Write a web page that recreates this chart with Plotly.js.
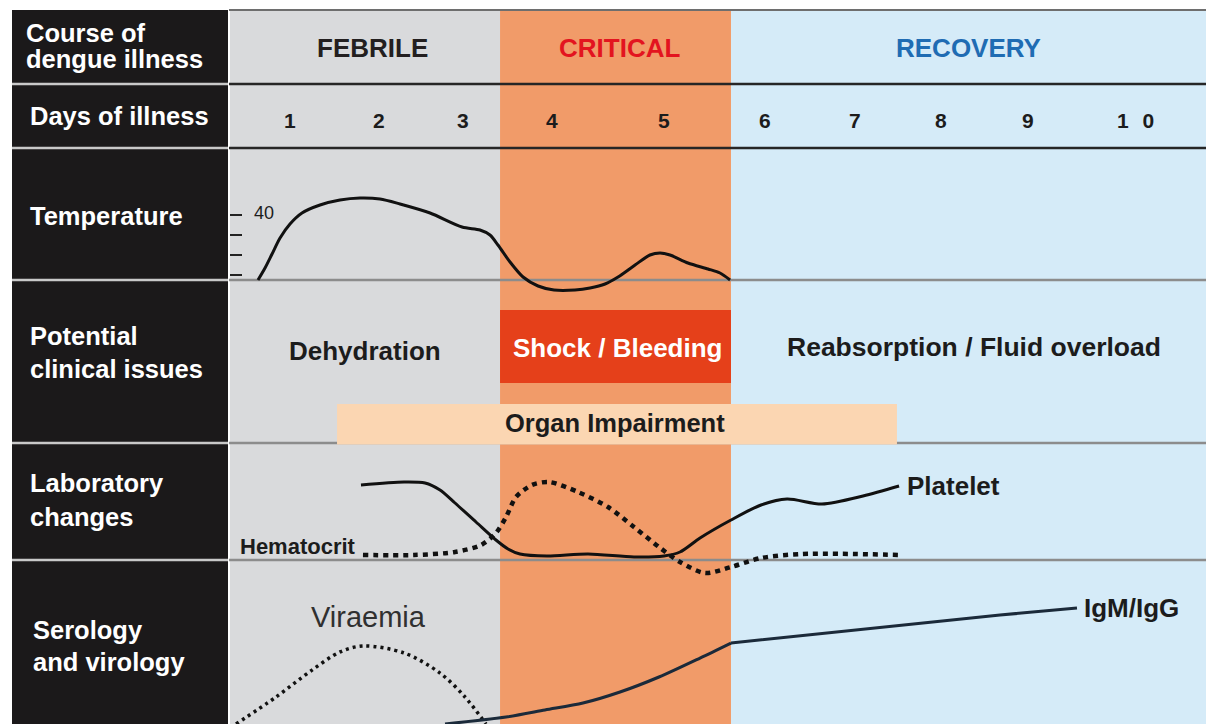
<!DOCTYPE html>
<html>
<head>
<meta charset="utf-8">
<script src="https://cdn.plot.ly/plotly-3.0.1.min.js"></script>
<style>html,body{margin:0;padding:0;background:#fff;}#chart{width:1206px;height:724px;}</style>
</head>
<body>
<div id="chart"></div>
<script>
// ---------------- DATA ----------------
const phases = ["FEBRILE", "CRITICAL", "RECOVERY"];
const phaseEdges = [0.368, 3.211, 5.642, 10.642];          // day units
const dayLabels = ["1", "2", "3", "4", "5", "6", "7", "8", "9", "1 0"];
const dayTickPos = [1.0, 1.937, 2.816, 3.758, 4.937, 6.0, 6.947, 7.853, 8.768, 9.926];

const rowLabels = [["Course of", "dengue illness"], ["Days of illness"], ["Temperature"],
                   ["Potential", "clinical issues"], ["Laboratory", "changes"], ["Serology", "and virology"]];

const tempTicks = [37, 38, 39, 40];
const tempDay = [0.663, 0.737, 0.811, 0.895, 1.0, 1.126, 1.316, 1.526, 1.737, 1.947, 2.158, 2.474, 2.811, 3.0, 3.105,
                 3.189, 3.316, 3.453, 3.611, 3.779, 4.0, 4.158, 4.316, 4.453, 4.632, 4.789, 4.895, 5.0, 5.189, 5.4, 5.526, 5.632];
const tempC = [36.75, 37.35, 38.05, 38.85, 39.55, 40.1, 40.5, 40.75, 40.85, 40.8, 40.55, 40.1, 39.4, 39.25, 39.0,
               38.5, 37.65, 36.9, 36.45, 36.25, 36.25, 36.35, 36.55, 36.9, 37.5, 38.0, 38.1, 38.0, 37.6, 37.3, 37.1, 36.75];

const plateletDay = [1.747, 2.2, 2.421, 2.579, 2.737, 2.958, 3.168, 3.295, 3.421, 3.705, 4.137, 4.621, 4.937, 5.105,
                     5.316, 5.642, 5.958, 6.232, 6.6, 7.032, 7.411];
const plateletLevel = [93.75, 97.5, 96.25, 87.5, 71.25, 47.5, 25, 13.75, 7.5, 5, 7.5, 3.75, 5, 10,
                       27.5, 50, 68.75, 76.25, 70, 80, 92.5];

const hctDay = [1.768, 2.305, 2.737, 3.011, 3.168, 3.274, 3.379, 3.547, 3.726, 4.032, 4.347, 4.621, 4.884, 5.105,
                5.368, 5.642, 5.958, 6.389, 7.432];
const hctLevel = [6.25, 6.25, 10, 18.75, 33.75, 53.75, 78.75, 93.75, 97.5, 85, 66.25, 41.25, 16.25, -2.5,
                  -16.25, -8.75, 2.5, 7.5, 6.25];

const viraemiaDay = [0.432, 0.853, 1.232, 1.526, 1.768, 2.2, 2.579, 2.842, 3.063];
const viraemiaLevel = [0, 21.8, 43.5, 58.1, 62.9, 57.3, 41.1, 21.8, 0];

const igRiseDay = [2.632, 3.274, 3.684, 4.084, 4.474, 4.884, 5.316, 5.642];
const igRiseLevel = [0, 5.6, 11.3, 16.9, 25.8, 37.9, 53.2, 65.3];
const igPlateauDay = [5.642, 8.474, 9.284];
const igPlateauLevel = [65.3, 87.9, 93.5];

const issues = {dehydration: "Dehydration", shock: "Shock / Bleeding", reabs: "Reabsorption / Fluid overload", organ: "Organ Impairment"};
const organSpan = [1.495, 7.389];

// ---------------- LAYOUT HELPERS ----------------
const W = 1206, H = 724;
const PX = v => v / W;
const PY = v => 1 - v / H;
const FONT = "Liberation Sans, Arial, Helvetica, sans-serif";
const dark = "#1c1c1c";

const shapes = [];
const annotations = [];

// left black column
shapes.push({type: "rect", xref: "paper", yref: "paper", x0: PX(12), x1: PX(228), y0: PY(724), y1: PY(10),
             fillcolor: "#1b191a", line: {width: 0}, layer: "below"});
// phase backgrounds
const phaseFill = ["#d9dadc", "#f19b69", "#d5ebf8"];
for (let i = 0; i < 3; i++) {
  shapes.push({type: "rect", xref: "x", yref: "paper", x0: phaseEdges[i], x1: phaseEdges[i + 1], y0: PY(724), y1: PY(10),
               fillcolor: phaseFill[i], line: {width: 0}, layer: "below"});
}
// horizontal rules
const rules = [[10, "#6e6e6e", 2], [84, "#262626", 2.5], [148, "#262626", 2.5], [280, "#8c8c8c", 2.5], [443, "#8c8c8c", 2.5], [560, "#8c8c8c", 2.5]];
rules.forEach(r => {
  shapes.push({type: "line", xref: "paper", yref: "paper", x0: PX(229), x1: 1, y0: PY(r[0]), y1: PY(r[0]),
               line: {color: r[1], width: r[2]}, layer: "below"});
  if (r[0] > 10) shapes.push({type: "line", xref: "paper", yref: "paper", x0: PX(12), x1: PX(228), y0: PY(r[0]), y1: PY(r[0]),
               line: {color: "#c9c9c9", width: 2.5}, layer: "below"});
});
// shock box and organ impairment box
shapes.push({type: "rect", xref: "x", yref: "paper", x0: phaseEdges[1], x1: phaseEdges[2], y0: PY(383), y1: PY(310),
             fillcolor: "#e5401a", line: {width: 0}, layer: "below"});
shapes.push({type: "rect", xref: "x", yref: "paper", x0: organSpan[0], x1: organSpan[1], y0: PY(444.5), y1: PY(404),
             fillcolor: "#fbd6b2", line: {width: 0}, layer: "below"});

// left column labels
const rowLabelPos = [[25, [33, 59]], [29, [116]], [29, [216]], [29, [336, 369]], [29, [483, 517]], [32, [630, 662]]];
rowLabels.forEach((lines, i) => {
  lines.forEach((t, j) => {
    annotations.push({text: t, xref: "paper", yref: "paper", x: PX(rowLabelPos[i][0]), y: PY(rowLabelPos[i][1][j]),
      xanchor: "left", yanchor: "middle", showarrow: false, xshift: -1, font: {family: FONT, size: 25.5, color: "#ffffff", weight: "bold"}});
  });
});
// phase titles
const phaseColor = ["#231f20", "#e3141f", "#1f6cb3"];
phases.forEach((p, i) => {
  annotations.push({text: p, xref: "x", yref: "paper", x: (phaseEdges[i] + phaseEdges[i + 1]) / 2, y: PY(48),
    xanchor: "center", yanchor: "middle", showarrow: false, xshift: [7, 4, 0][i],
    font: {family: FONT, size: 26, color: phaseColor[i], weight: "bold"}});
});
// day labels
dayLabels.forEach((d, i) => {
  annotations.push({text: d.length > 1 ? '<span style="letter-spacing:4px">' + d + '</span>' : d, xref: "x", yref: "paper",
    x: dayTickPos[i], y: PY(120), xanchor: "center", yanchor: "middle", showarrow: false,
    font: {family: FONT, size: 21, color: dark, weight: "bold"}});
});
// temperature scale label
annotations.push({text: "40", xref: "paper", yref: "y", x: PX(252), y: tempTicks[3] + 0.12, xanchor: "left", yanchor: "middle",
  showarrow: false, font: {family: FONT, size: 18, color: dark}});
// clinical issues
annotations.push({text: issues.dehydration, xref: "x", yref: "paper", x: (phaseEdges[0] + phaseEdges[1]) / 2, y: PY(351),
  xanchor: "center", yanchor: "middle", xshift: 0, showarrow: false, font: {family: FONT, size: 26, color: dark, weight: "bold"}});
annotations.push({text: issues.shock, xref: "x", yref: "paper", x: (phaseEdges[1] + phaseEdges[2]) / 2, y: PY(348),
  xanchor: "center", yanchor: "middle", xshift: 2, showarrow: false, font: {family: FONT, size: 26, color: "#ffffff", weight: "bold"}});
annotations.push({text: issues.reabs, xref: "x", yref: "paper", x: (phaseEdges[2] + phaseEdges[3]) / 2, y: PY(347),
  xanchor: "center", yanchor: "middle", xshift: 6, showarrow: false, font: {family: FONT, size: 26.5, color: dark, weight: "bold"}});
annotations.push({text: issues.organ, xref: "x", yref: "paper", x: (organSpan[0] + organSpan[1]) / 2, y: PY(423),
  xanchor: "center", yanchor: "middle", xshift: -2, showarrow: false, font: {family: FONT, size: 25.5, color: dark, weight: "bold"}});
// curve labels
annotations.push({text: "Platelet", xref: "x", yref: "y2", x: plateletDay[plateletDay.length - 1], y: plateletLevel[plateletLevel.length - 1],
  xanchor: "left", yanchor: "middle", xshift: 6, yshift: 0, showarrow: false, font: {family: FONT, size: 26, color: dark, weight: "bold"}});
annotations.push({text: "Hematocrit", xref: "x", yref: "y2", x: hctDay[0], y: hctLevel[0],
  xanchor: "right", yanchor: "middle", xshift: -5, yshift: 9, showarrow: false, font: {family: FONT, size: 22, color: dark, weight: "bold"}});
annotations.push({text: "Viraemia", xref: "x", yref: "y3", x: viraemiaDay[4], y: viraemiaLevel[4],
  xanchor: "center", yanchor: "middle", xshift: 6, yshift: 29, showarrow: false, font: {family: FONT, size: 29, color: "#303030"}});
annotations.push({text: "IgM/IgG", xref: "x", yref: "y3", x: igPlateauDay[igPlateauDay.length - 1], y: igPlateauLevel[igPlateauLevel.length - 1],
  xanchor: "left", yanchor: "middle", xshift: 5, yshift: 0, showarrow: false, font: {family: FONT, size: 26, color: dark, weight: "bold"}});

// ---------------- TRACES ----------------
const traces = [
  {x: tempDay, y: tempC, yaxis: "y", mode: "lines", line: {color: "#111", width: 3, shape: "spline", smoothing: 0.8}, hoverinfo: "skip"},
  {x: plateletDay, y: plateletLevel, yaxis: "y2", mode: "lines", line: {color: "#111", width: 3, shape: "spline", smoothing: 0.8}, hoverinfo: "skip"},
  {x: hctDay, y: hctLevel, yaxis: "y2", mode: "lines", line: {color: "#111", width: 4.5, dash: "5px,5px", shape: "spline", smoothing: 0.8}, hoverinfo: "skip"},
  {x: viraemiaDay, y: viraemiaLevel, yaxis: "y3", mode: "lines", line: {color: "#111", width: 3.5, dash: "3px,4px", shape: "spline", smoothing: 0.9}, hoverinfo: "skip"},
  {x: igRiseDay, y: igRiseLevel, yaxis: "y3", mode: "lines", line: {color: "#1b2a3a", width: 3, shape: "spline", smoothing: 0.8}, hoverinfo: "skip"},
  {x: igPlateauDay, y: igPlateauLevel, yaxis: "y3", mode: "lines", line: {color: "#1b2a3a", width: 3, shape: "spline", smoothing: 0.5}, hoverinfo: "skip"}
];

const layout = {
  width: W, height: H,
  margin: {l: 0, r: 0, t: 0, b: 0, pad: 0},
  paper_bgcolor: "#ffffff", plot_bgcolor: "rgba(0,0,0,0)",
  showlegend: false,
  xaxis: {range: [1 - 290 / 95, 1 + 916 / 95], domain: [0, 1], visible: false, fixedrange: true},
  yaxis: {range: [14.55, 50.75], domain: [0, 1], anchor: "free", position: PX(242), side: "left",
          showgrid: false, zeroline: false, showline: false, ticks: "outside", ticklen: 12, tickwidth: 2, tickcolor: "#222",
          tickvals: tempTicks, showticklabels: false, fixedrange: true},
  yaxis2: {range: [-205, 700], domain: [0, 1], overlaying: "y", visible: false, fixedrange: true},
  yaxis3: {range: [0, 583.87], domain: [0, 1], overlaying: "y", visible: false, fixedrange: true},
  shapes: shapes,
  annotations: annotations
};

Plotly.newPlot("chart", traces, layout, {displayModeBar: false, staticPlot: true});
</script>
</body>
</html>
